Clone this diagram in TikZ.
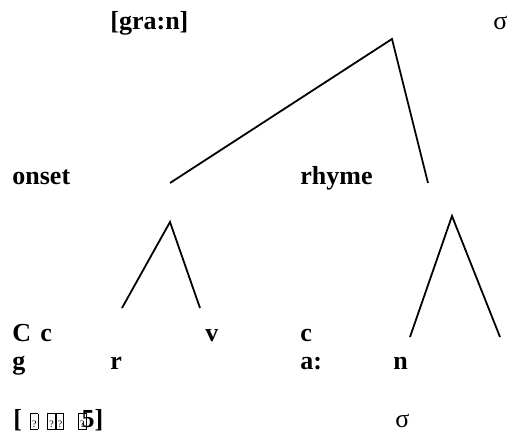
\documentclass[tikz,border=0pt]{standalone}
\usepackage{fontspec}
\setmainfont{Liberation Serif}
\usetikzlibrary{positioning}

% missing-glyph box as printed in the source
\newcommand{\tofu}{{\setlength{\fboxsep}{0.3pt}\setlength{\fboxrule}{0.4pt}\framebox[4.2pt][c]{\rule{0pt}{6.6pt}\fontsize{5}{5}\selectfont\mdseries ?}}}

\tikzset{
  lbl/.style={anchor=base west, inner sep=0pt, font=\fontsize{13}{15}\selectfont\bfseries},
  sig/.style={anchor=base west, inner sep=0pt, font=\fontsize{13}{15}\selectfont},
  branch/.style={line width=0.9pt}
}

\begin{document}
\begin{tikzpicture}[x=0.5pt, y=-0.5pt]
\useasboundingbox (0,0) rectangle (510,442);

% labels
\node (word) [lbl] at (110,30) {[gra:n]};
\node (sigtop) [sig] at (493,30) {σ};
\node (onset) [lbl] at (12,185) {onset};
\node (rhyme) [lbl] at (300,185) {rhyme};

\node (C) [lbl] at (12,342) {C};
\node (c1) [lbl] at (40,342) {c};
\node (v) [lbl] at (205,342) {v};
\node (c2) [lbl] at (300,342) {c};

\node (g) [lbl] at (12,370) {g};
\node (r) [lbl] at (110,370) {r};
\node (a) [lbl] at (300,370) {a:};
\node (n) [lbl] at (393,370) {n};

\node (ipa) [lbl] at (13,428) {[\hspace{4pt}\tofu\hspace{4.5pt}\tofu\tofu\hspace{7pt}\tofu\hspace{-2.5pt}5]};
\node (sigbot) [sig] at (395,428) {σ};

% tree branches
\coordinate (top) at (392,39);
\coordinate (onsetend) at (170,183);
\coordinate (rhymeend) at (428,183);
\coordinate (onsettop) at (170,222);
\coordinate (onsetl) at (122,308);
\coordinate (onsetr) at (200,308);
\coordinate (rhymetop) at (452,216);
\coordinate (rhymel) at (410,337);
\coordinate (rhymer) at (500,337);

\draw[branch] (onsetend) -- (top) -- (rhymeend);
\draw[branch] (onsetl) -- (onsettop) -- (onsetr);
\draw[branch] (rhymel) -- (rhymetop) -- (rhymer);
\end{tikzpicture}
\end{document}
